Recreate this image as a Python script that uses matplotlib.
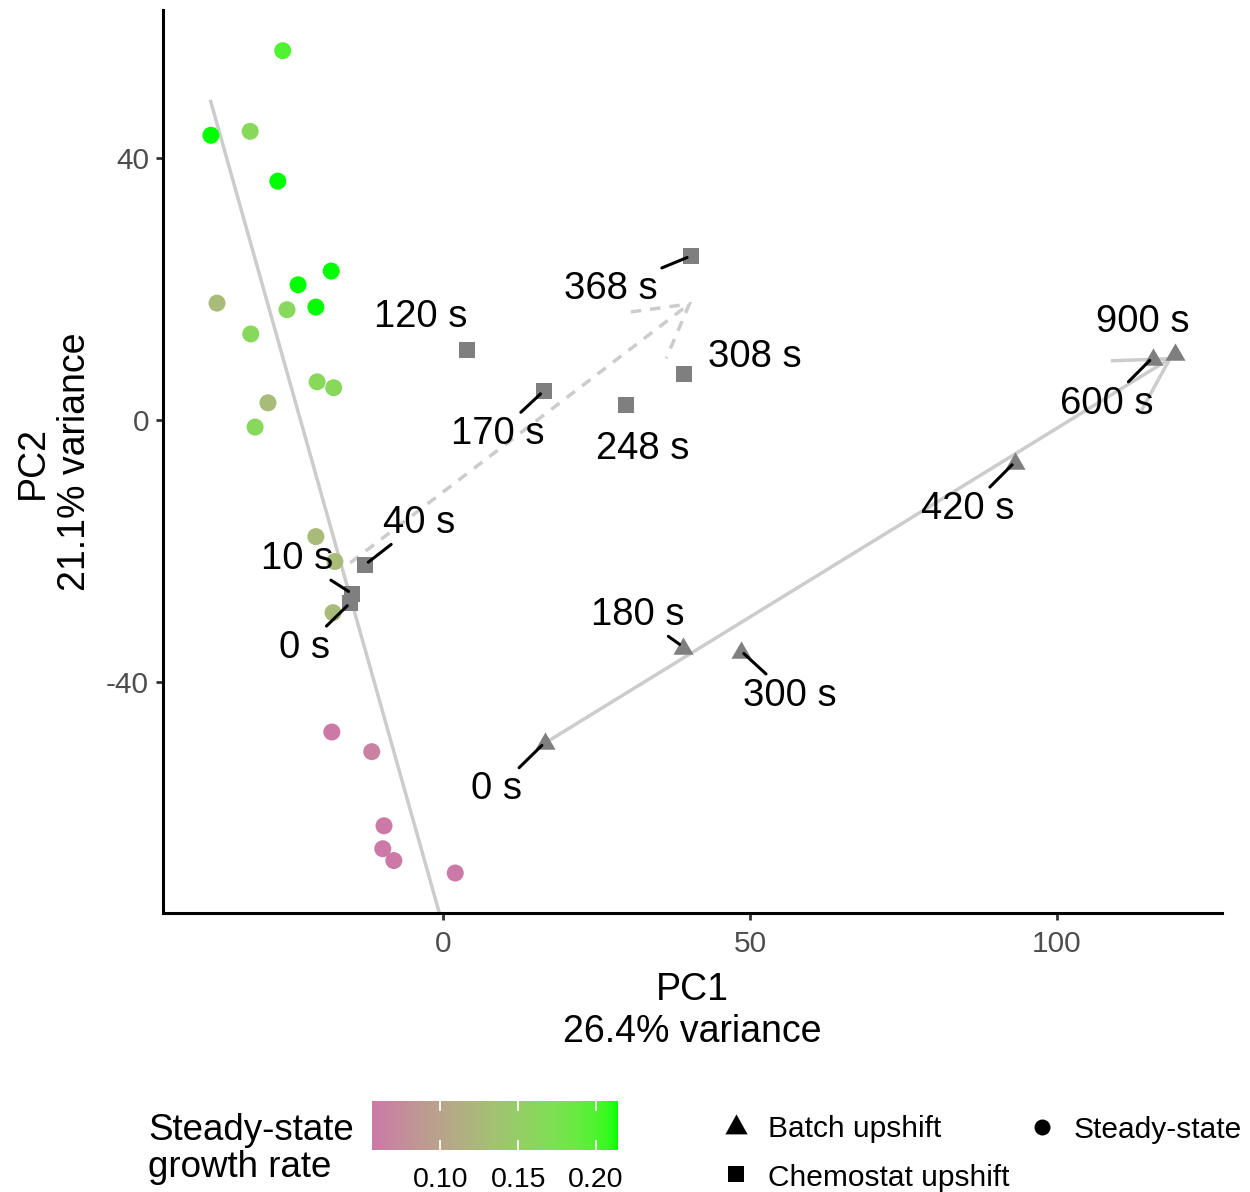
import numpy as np
import matplotlib
matplotlib.use("Agg")
import matplotlib.pyplot as plt
from matplotlib.colors import ListedColormap, Normalize
from matplotlib.lines import Line2D
from matplotlib.patches import FancyArrowPatch
from matplotlib.path import Path

plt.rcParams['font.family'] = ['Liberation Sans', 'DejaVu Sans']
plt.rcParams['axes.unicode_minus'] = False

# ---------------- data ----------------
# steady-state cultures
ss_pc1 = [-26.1, -37.8, -31.4, -26.9, -18.2, -23.6, -20.7, -36.8, -25.4, -31.3,
          -20.5, -17.8, -28.5, -30.6, -20.7, -17.6, -17.9,
          -18.1, -11.6, -9.6, -9.8, -8.0, 2.0]
ss_pc2 = [56.3, 43.4, 44.0, 36.4, 22.7, 20.6, 17.2, 17.8, 16.8, 13.1,
          5.8, 4.9, 2.6, -1.1, -17.8, -21.6, -29.4,
          -47.6, -50.6, -61.9, -65.4, -67.2, -69.1]
ss_growth = [0.198, 0.2135, 0.163, 0.2135, 0.2135, 0.2135, 0.2135, 0.127, 0.163, 0.163,
             0.163, 0.163, 0.127, 0.163, 0.127, 0.127, 0.127,
             0.056, 0.064, 0.056, 0.056, 0.056, 0.056]

# chemostat upshift time course
chemo_pc1 = [-15.1, -14.8, -12.7, 3.9, 16.4, 29.8, 39.2, 40.4]
chemo_pc2 = [-27.9, -26.5, -22.1, 10.7, 4.4, 2.3, 7.0, 25.0]
chemo_labels = ["0 s", "10 s", "40 s", "120 s", "170 s", "248 s", "308 s", "368 s"]

# batch upshift time course
batch_pc1 = [16.6, 39.1, 48.5, 93.2, 115.6, 119.2]
batch_pc2 = [-49.2, -34.6, -35.2, -6.4, 9.5, 10.2]
batch_labels = ["0 s", "180 s", "300 s", "420 s", "600 s", "900 s"]

# trajectory arrows (start, end)
ss_traj = [(-37.9, 48.8), (-0.2, -76.5)]
chemo_traj = [(-15.1, -21.8), (40.6, 18.0)]
batch_traj = [(16.6, -49.3), (118.9, 9.6)]

# label placement (pixel offsets from each point) and leader-segment flags
chemo_offsets = [(-46, -42), (-55, 38), (54, 45), (-46, 36), (-46, -40), (17, -41), (71, 20), (-80, -30)]
chemo_segment = [True, True, True, False, True, False, False, True]
batch_offsets = [(-48, -44), (-45, 35), (49, -42), (-47, -44), (-46, -43), (-32, 34)]
batch_segment = [True, True, True, True, True, False]

cb_ticks = [0.10, 0.15, 0.20]
cb_ticklabels = ["0.10", "0.15", "0.20"]


# ---------------- colour scale (Lab interpolation) ----------------
def srgb_to_lab(rgb):
    c = np.asarray(rgb, float)
    lin = np.where(c <= 0.04045, c / 12.92, ((c + 0.055) / 1.055) ** 2.4)
    M = np.array([[0.4124564, 0.3575761, 0.1804375],
                  [0.2126729, 0.7151522, 0.0721750],
                  [0.0193339, 0.1191920, 0.9503041]])
    xyz = M @ lin
    wp = np.array([0.95047, 1.0, 1.08883])
    t = xyz / wp
    f = np.where(t > (6 / 29) ** 3, np.cbrt(t), t / (3 * (6 / 29) ** 2) + 4 / 29)
    return np.array([116 * f[1] - 16, 500 * (f[0] - f[1]), 200 * (f[1] - f[2])])


def lab_to_srgb(lab):
    L, a, b = lab
    fy_ = (L + 16) / 116
    fx_ = fy_ + a / 500
    fz_ = fy_ - b / 200
    f = np.array([fx_, fy_, fz_])
    t = np.where(f > 6 / 29, f ** 3, 3 * (6 / 29) ** 2 * (f - 4 / 29))
    wp = np.array([0.95047, 1.0, 1.08883])
    xyz = t * wp
    Minv = np.array([[3.2404542, -1.5371385, -0.4985314],
                     [-0.9692660, 1.8760108, 0.0415560],
                     [0.0556434, -0.2040259, 1.0572252]])
    lin = np.clip(Minv @ xyz, 0, 1)
    c = np.where(lin <= 0.0031308, 12.92 * lin, 1.055 * lin ** (1 / 2.4) - 0.055)
    return np.clip(c, 0, 1)


low = srgb_to_lab(np.array([0xCC, 0x79, 0xA7]) / 255)
high = srgb_to_lab(np.array([0x00, 0xFF, 0x00]) / 255)
cmap = ListedColormap([lab_to_srgb(low + (high - low) * s) for s in np.linspace(0, 1, 256)])
norm = Normalize(min(ss_growth), max(ss_growth))

# ---------------- figure ----------------
W, H = 1250, 1192
fig = plt.figure(figsize=(W / 100, H / 100), dpi=100)


def fx(px):
    return px / W


def fy(py):
    return 1 - py / H


ax = fig.add_axes([fx(163), fy(913), fx(1222) - fx(163), fy(10) - fy(913)])
ax.set_xlim(-45.6, 126.9)
ax.set_ylim(-75.2, 62.5)
for s in ("top", "right"):
    ax.spines[s].set_visible(False)
for s in ("left", "bottom"):
    ax.spines[s].set_linewidth(2.2)
    ax.spines[s].set_color("black")
ax.set_xticks([0, 50, 100])
ax.set_yticks([-40, 0, 40])
ax.tick_params(length=5, width=2.0, color="#333333", labelcolor="#4D4D4D",
               labelsize=21.5)
ax.tick_params(axis="x", pad=7)
ax.tick_params(axis="y", pad=5)

line_grey = "#CCCCCC"
traj_lw = 2.5


def arrow(traj, ls):
    (x0, y0), (x1, y1) = traj
    p = FancyArrowPatch((x0, y0), (x1, y1), arrowstyle="->,head_length=37,head_width=21",
                        mutation_scale=1, shrinkA=0, shrinkB=0, lw=traj_lw,
                        color=line_grey, linestyle=ls, capstyle="butt", joinstyle="miter",
                        zorder=1)
    ax.add_patch(p)


ax.plot([ss_traj[0][0], ss_traj[1][0]], [ss_traj[0][1], ss_traj[1][1]],
        color=line_grey, lw=traj_lw, zorder=1, solid_capstyle="butt")
arrow(chemo_traj, (0, (3.0, 2.6)))
arrow(batch_traj, "-")

tri = Path([(-1, -0.72), (1, -0.72), (0, 1.0), (-1, -0.72)],
           [Path.MOVETO, Path.LINETO, Path.LINETO, Path.CLOSEPOLY])

ax.scatter(ss_pc1, ss_pc2, c=ss_growth, cmap=cmap, norm=norm, s=150,
           marker="o", linewidths=0, zorder=3)
ax.scatter(chemo_pc1, chemo_pc2, color="#7F7F7F", s=130, marker="s",
           linewidths=0, zorder=3)
ax.scatter(batch_pc1, batch_pc2, color="#7F7F7F", s=210, marker=tri,
           linewidths=0, zorder=3)


def label(xs, ys, texts, offsets, segs):
    for x, y, t, (dx, dy), sg in zip(xs, ys, texts, offsets, segs):
        kw = {}
        if sg:
            kw["arrowprops"] = dict(arrowstyle="-", color="black", lw=2.2,
                                    shrinkA=1, shrinkB=3)
        ax.annotate(t, xy=(x, y), xytext=(dx, dy - 3), textcoords="offset pixels",
                    ha="center", va="center", fontsize=27.5, color="black",
                    zorder=4, **kw)


label(chemo_pc1, chemo_pc2, chemo_labels, chemo_offsets, chemo_segment)
label(batch_pc1, batch_pc2, batch_labels, batch_offsets, batch_segment)

# axis titles
fig.text(fx(692), fy(1000), "PC1", ha="center", va="baseline", fontsize=27)
fig.text(fx(692), fy(1042), "26.4% variance", ha="center", va="baseline", fontsize=27)
fig.text(fx(43), fy(462), "PC2", ha="center", va="baseline", fontsize=27,
         rotation=90, rotation_mode="anchor")
fig.text(fx(85), fy(462), "21.1% variance", ha="center", va="baseline", fontsize=27,
         rotation=90, rotation_mode="anchor")

# colour bar legend
fig.text(fx(148), fy(1140), "Steady-state", ha="left", va="baseline", fontsize=26.5)
fig.text(fx(148), fy(1177), "growth rate", ha="left", va="baseline", fontsize=26.5)

cax = fig.add_axes([fx(372), fy(1150), fx(617) - fx(372), fy(1101) - fy(1150)])
vmin, vmax = norm.vmin, norm.vmax
cax.imshow(np.linspace(0, 1, 256)[None, :], aspect="auto", cmap=cmap,
           extent=[vmin, vmax, 0, 1], interpolation="bilinear")
cax.set_xlim(vmin, vmax)
cax.set_ylim(0, 1)
for s in cax.spines.values():
    s.set_visible(False)
cax.set_yticks([])
cax.set_xticks(cb_ticks, labels=cb_ticklabels)
cax.tick_params(length=0, pad=12, labelsize=20.5, labelcolor="black")
cax.vlines(cb_ticks, 0, 0.2, color="white", lw=1.3)
cax.vlines(cb_ticks, 0.8, 1, color="white", lw=1.3)

# shape legend
tri_leg = Path([(-1, -0.8), (1, -0.8), (0, 1.0), (-1, -0.8)],
               [Path.MOVETO, Path.LINETO, Path.LINETO, Path.CLOSEPOLY])
leg_items = [(736, 1125, tri_leg, 16, "Batch upshift", 768, 1137),
             (736, 1174, "s", 11, "Chemostat upshift", 768, 1186),
             (1042, 1127, "o", 11.5, "Steady-state", 1074, 1138)]
for mx, my, mk, ms, txt, tx, ty in leg_items:
    fig.add_artist(Line2D([fx(mx)], [fy(my)], transform=fig.transFigure, marker=mk,
                          markersize=ms, color="black", markeredgewidth=0, linestyle="none"))
    fig.text(fx(tx), fy(ty), txt, ha="left", va="baseline", fontsize=21.5)

fig.savefig("out.png", dpi=100)
